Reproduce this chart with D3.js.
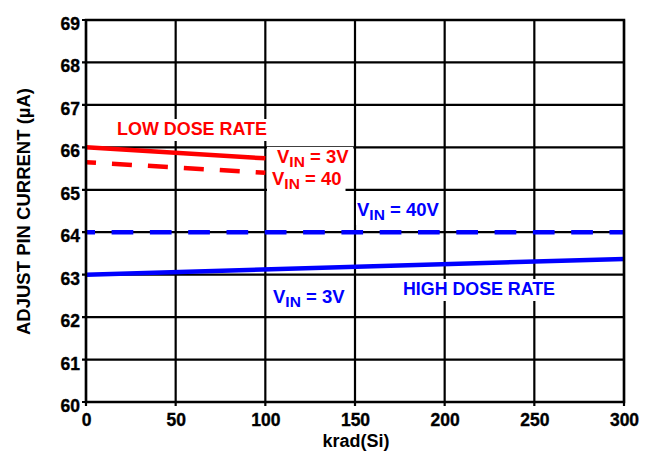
<!DOCTYPE html>
<html>
<head>
<meta charset="utf-8">
<script src="https://cdn.jsdelivr.net/npm/d3@7"></script>
<style>
  html, body { margin: 0; padding: 0; background: #fff; }
  svg { display: block; }
  text { font-family: "Liberation Sans", Arial, Helvetica, sans-serif; font-weight: bold; }
</style>
</head>
<body>
<svg id="chart" width="655" height="454"></svg>
<script>
// ---- data ----
const xTicks = [0, 50, 100, 150, 200, 250, 300];
const yTicks = [60, 61, 62, 63, 64, 65, 66, 67, 68, 69];
const lowDoseX = [0, 100];
const lowVin3 = [66.0, 65.74];
const lowVin40 = [65.65, 65.40];
const highDoseX = [0, 300];
const highVin40 = [64.0, 64.0];
const highVin3 = [63.0, 63.37];
const xTitle = "krad(Si)";
const yTitle = "ADJUST PIN CURRENT (µA)";

// ---- layout ----
const W = 655, H = 454;
const m = { left: 86, top: 20, right: 31, bottom: 52 };
const iw = W - m.left - m.right, ih = H - m.top - m.bottom;
const RED = "#ff0000", BLUE = "#0000ff";
const FONT = '"Liberation Sans", Arial, Helvetica, sans-serif';

const svg = d3.select("#chart");
const g = svg.append("g").attr("transform", `translate(${m.left},${m.top})`);

const x = d3.scaleLinear().domain([0, 300]).range([0, iw]);
const y = d3.scaleLinear().domain([60, 69]).range([ih, 0]);

// grid
g.append("g").selectAll("line").data(xTicks).join("line")
  .attr("x1", d => x(d)).attr("x2", d => x(d)).attr("y1", 0).attr("y2", ih + 4)
  .attr("stroke", "#000").attr("stroke-width", 2.2);
g.append("g").selectAll("line").data(yTicks).join("line")
  .attr("x1", -4).attr("x2", iw).attr("y1", d => y(d)).attr("y2", d => y(d))
  .attr("stroke", "#000").attr("stroke-width", 2.2);

// axes (labels only, via d3 axis)
const xAxis = g.append("g").attr("transform", `translate(0,${ih})`)
  .call(d3.axisBottom(x).tickValues(xTicks).tickSize(0).tickPadding(13));
const yAxis = g.append("g")
  .call(d3.axisLeft(y).tickValues(yTicks).tickSize(0).tickPadding(6));
[xAxis, yAxis].forEach(a => {
  a.attr("font-family", FONT).attr("font-size", 17.5).attr("font-weight", "bold");
  a.select(".domain").remove();
  a.selectAll("text").attr("font-size", 17.5).attr("fill", "#000")
    .attr("font-weight", "bold").attr("stroke", "#000").attr("stroke-width", 0.35);
});
yAxis.selectAll("text").attr("dy", "0.6em").attr("y", -1);
xAxis.selectAll("text").attr("dy", "0.71em").attr("y", 12);

// titles
svg.append("text").attr("x", m.left + x(150) + 1).attr("y", 446.5)
  .attr("text-anchor", "middle").attr("font-size", 18).attr("fill", "#000").text(xTitle);
svg.append("text").attr("transform", `translate(29.5,${m.top + ih / 2 + 0.5}) rotate(-90)`)
  .attr("text-anchor", "middle").attr("font-size", 17.5).attr("fill", "#000")
  .attr("textLength", 247).attr("lengthAdjust", "spacingAndGlyphs").text(yTitle);

// label boxes layer (under lines, above grid)
const boxLayer = g.append("g");
const lineLayer = g.append("g");
const textLayer = g.append("g");

function series(xs, ys, color, dash, offset) {
  const pts = xs.map((d, i) => [d, ys[i]]);
  const p = lineLayer.append("path")
    .attr("d", d3.line().x(d => x(d[0])).y(d => y(d[1]))(pts))
    .attr("fill", "none").attr("stroke", color).attr("stroke-width", 4.5);
  if (dash) p.attr("stroke-dasharray", dash).attr("stroke-dashoffset", offset);
}
series(lowDoseX, lowVin3, RED, null);
series(lowDoseX, lowVin40, RED, "20,16", 10);
series(highDoseX, highVin40, BLUE, "21.7,16.6", 12.7);
series(highDoseX, highVin3, BLUE, null);

// annotations
function label(kx, vy, color, parts, opts = {}) {
  const t = textLayer.append("text").attr("x", x(kx)).attr("y", y(vy))
    .attr("fill", color).attr("font-size", 18.5);
  parts.forEach(p => {
    const s = t.append("tspan").text(p.t);
    if (p.sub) s.attr("font-size", 15.5).attr("dy", 4);
    if (p.back) s.attr("dy", -4);
  });
  if (opts.len) t.attr("textLength", opts.len).attr("lengthAdjust", "spacingAndGlyphs");
  const b = t.node().getBBox();
  const pad = opts.pad || [3, 2, 3, 1];
  boxLayer.append("rect").attr("x", b.x - pad[0]).attr("y", b.y + pad[3])
    .attr("width", b.width + pad[0] + pad[2]).attr("height", b.height - pad[3] + pad[1])
    .attr("fill", "#fff");
  return t;
}
const vin = (rest) => [{ t: "V" }, { t: "IN", sub: true }, { t: " = " + rest, back: true }];

label(x.invert(117 - m.left), y.invert(135 - m.top), RED, [{ t: "LOW DOSE RATE" }], { len: 150 });
label(x.invert(277 - m.left), y.invert(163 - m.top), RED, vin("3V"), { pad: [10, 1, 4, 1] });
label(x.invert(272 - m.left), y.invert(185 - m.top), RED, vin("40"), { pad: [5, 2, 4, 1] });
label(x.invert(357 - m.left), y.invert(216 - m.top), BLUE, vin("40V"), { pad: [1, 2, 3, 1] });
label(x.invert(273 - m.left), y.invert(303 - m.top), BLUE, vin("3V"), { pad: [4, 2, 4, 1] });
label(x.invert(403 - m.left), y.invert(295 - m.top), BLUE, [{ t: "HIGH DOSE RATE" }], { len: 152 });

// frame
g.append("rect").attr("width", iw).attr("height", ih)
  .attr("fill", "none").attr("stroke", "#000").attr("stroke-width", 2.5);
</script>
</body>
</html>
